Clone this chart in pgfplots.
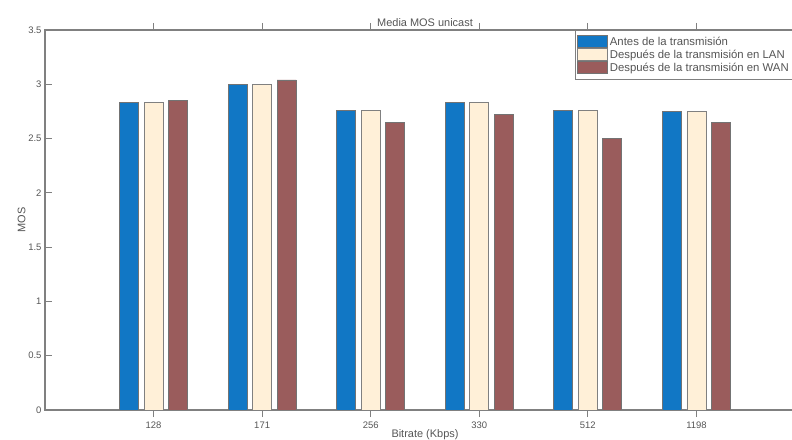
\documentclass[border=0pt]{standalone}
\usepackage{pgfplots}
\pgfplotsset{compat=1.18}
\usepackage{fontspec}
\setmainfont{Liberation Sans}
\definecolor{cblue}{RGB}{17,119,197}
\definecolor{ccream}{RGB}{255,240,216}
\definecolor{cbrown}{RGB}{154,92,92}
\definecolor{axgray}{RGB}{128,128,128}
\definecolor{txtgray}{RGB}{85,85,85}
\begin{document}
\begin{tikzpicture}
\begin{axis}[
  name=ax,
  scale only axis,
  width=760bp, height=380bp,
  xmin=0, xmax=7, ymin=0, ymax=3.5,
  xtick={1,2,3,4,5,6},
  xticklabels={128,171,256,330,512,1198},
  ytick={0,0.5,1,1.5,2,2.5,3,3.5},
  yticklabels={0,0.5,1,1.5,2,2.5,3,3.5},
  tick align=inside,
  major tick length=7bp,
  axis line style={axgray, line width=1.2bp},
  every tick/.style={axgray, line width=1bp},
  tick label style={font=\fontsize{9.5}{11}\selectfont, text=txtgray},
  /pgf/number format/assume math mode=true,
  xticklabel style={yshift=-1bp},
  xlabel={Bitrate (Kbps)},
  ylabel={MOS},
  label style={font=\fontsize{11}{13}\selectfont, text=txtgray},
  xlabel style={yshift=6bp},
  ylabel style={yshift=-4bp},
  title={Media MOS unicast},
  title style={font=\fontsize{11}{13}\selectfont, text=txtgray, yshift=-6bp},
  ybar,
  bar width=19bp,
  legend cell align=left,
  legend style={at={(0.697,1)}, anchor=north west, draw=axgray, line width=0.8bp,
    font=\fontsize{11.4}{13}\selectfont, text=txtgray,
    row sep=-0.8bp, inner xsep=2bp, inner ysep=4.5bp},
  legend image code/.code={\draw[#1, line width=0.8bp] (3bp,-5.5bp) rectangle (33bp,6.5bp);},
]
\addplot[fill=cblue, draw=black!55, line width=0.8bp, bar shift=-24.5bp] coordinates {(1,2.83) (2,3.00) (3,2.76) (4,2.83) (5,2.76) (6,2.75)};
\addplot[fill=ccream, draw=black!50, line width=0.8bp, bar shift=0bp] coordinates {(1,2.83) (2,3.00) (3,2.76) (4,2.83) (5,2.76) (6,2.75)};
\addplot[fill=cbrown, draw=black!55, line width=0.8bp, bar shift=24.5bp] coordinates {(1,2.85) (2,3.04) (3,2.65) (4,2.72) (5,2.50) (6,2.645)};
\legend{Antes de la transmisión, Después de la transmisión en LAN, Después de la transmisión en WAN}
\end{axis}
\pgfresetboundingbox
\path[use as bounding box] ([shift={(-45bp,-30bp)}]ax.south west) rectangle ([shift={(747bp,30bp)}]ax.north west);
\end{tikzpicture}
\end{document}
